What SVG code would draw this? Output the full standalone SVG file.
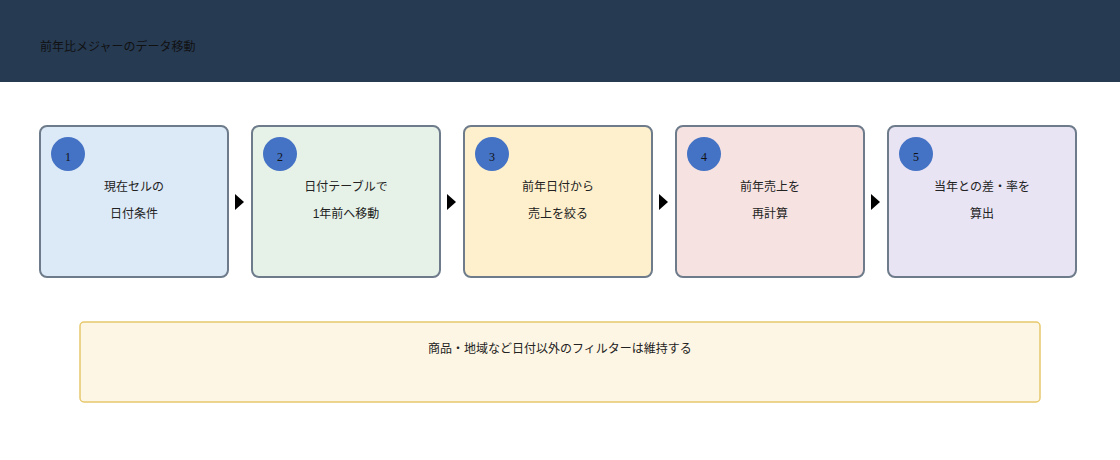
<svg xmlns="http://www.w3.org/2000/svg" width="1120" height="460" viewBox="0 0 1120 460">
<style>
.t{font-family:"Liberation Sans","Noto Sans CJK JP",sans-serif;font-size:12px;fill:#222;text-anchor:middle}
.h{font-family:"Liberation Sans","Noto Sans CJK JP",sans-serif;font-size:12px;fill:#111}
.n{font-family:"Liberation Serif","Noto Sans CJK JP",serif;font-size:12px;fill:#111;text-anchor:middle}
.box{stroke:#6e7b8b;stroke-width:2}
.c{fill:#4472c4}
</style>
<rect x="0" y="0" width="1120" height="460" fill="#ffffff"/>
<g id="header">
<rect x="0" y="0" width="1120" height="82" fill="#263a52"/>
<text class="h" x="40" y="51">前年比メジャーのデータ移動</text>
</g>
<g id="step1">
<rect class="box" x="40" y="126" width="188" height="151" rx="7" fill="#dce9f6"/>
<circle class="c" cx="68" cy="154" r="17"/>
<text class="n" x="68" y="161">1</text>
<text class="t" x="134" y="191">現在セルの</text>
<text class="t" x="134" y="218">日付条件</text>
</g>
<g id="step2">
<rect class="box" x="252" y="126" width="188" height="151" rx="7" fill="#e6f2e8"/>
<circle class="c" cx="280" cy="154" r="17"/>
<text class="n" x="280" y="161">2</text>
<text class="t" x="346" y="191">日付テーブルで</text>
<text class="t" x="346" y="218">1年前へ移動</text>
</g>
<g id="step3">
<rect class="box" x="464" y="126" width="188" height="151" rx="7" fill="#fef0cc"/>
<circle class="c" cx="492" cy="154" r="17"/>
<text class="n" x="492" y="161">3</text>
<text class="t" x="558" y="191">前年日付から</text>
<text class="t" x="558" y="218">売上を絞る</text>
</g>
<g id="step4">
<rect class="box" x="676" y="126" width="188" height="151" rx="7" fill="#f6e2e1"/>
<circle class="c" cx="704" cy="154" r="17"/>
<text class="n" x="704" y="161">4</text>
<text class="t" x="770" y="191">前年売上を</text>
<text class="t" x="770" y="218">再計算</text>
</g>
<g id="step5">
<rect class="box" x="888" y="126" width="188" height="151" rx="7" fill="#e8e4f4"/>
<circle class="c" cx="916" cy="154" r="17"/>
<text class="n" x="916" y="161">5</text>
<text class="t" x="982" y="191">当年との差・率を</text>
<text class="t" x="982" y="218">算出</text>
</g>
<g id="connectors" fill="#000">
<polygon points="235,194 244,202 235,210"/>
<polygon points="447,194 456,202 447,210"/>
<polygon points="659,194 668,202 659,210"/>
<polygon points="871,194 880,202 871,210"/>
</g>
<g id="note">
<rect x="80" y="322" width="960" height="80" rx="4" fill="#fef6e4" stroke="#e6c86c" stroke-width="1.5"/>
<text class="t" x="560" y="353">商品・地域など日付以外のフィルターは維持する</text>
</g>
</svg>
